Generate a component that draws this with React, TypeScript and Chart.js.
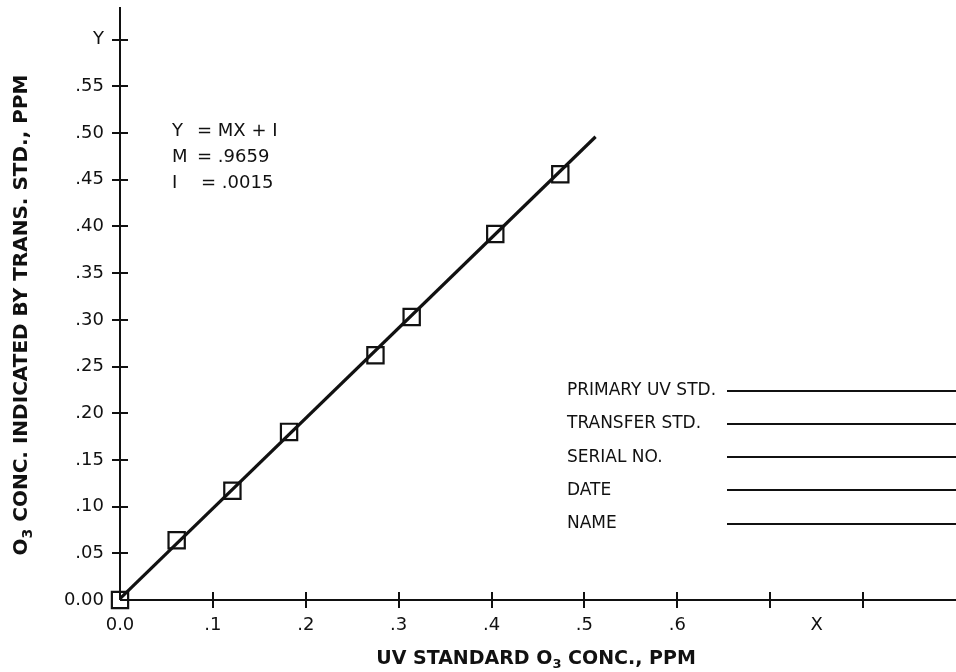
import { useEffect, useRef } from "react";
import { Chart, registerables } from "chart.js";

Chart.register(...registerables);

// Calibration readings: UV standard (x) vs transfer standard (y), ppm
const UV_STD_PPM = [0, 0.061, 0.121, 0.182, 0.275, 0.314, 0.404, 0.474];
const TRANSFER_PPM = [0, 0.064, 0.117, 0.18, 0.262, 0.303, 0.392, 0.456];

// Least-squares fit Y = MX + I
const SLOPE = 0.9659;
const INTERCEPT = 0.0015;
const FIT_X_RANGE = [0, 0.512];

// Axis ticks and their labels
const X_TICKS = [0, 0.1, 0.2, 0.3, 0.4, 0.5, 0.6, 0.7, 0.75, 0.8];
const X_TICK_LABELS = ["0.0", ".1", ".2", ".3", ".4", ".5", ".6", "", "X", ""];
const X_TICK_MARKS = [0.1, 0.2, 0.3, 0.4, 0.5, 0.6, 0.7, 0.8];
const Y_TICKS = [0, 0.05, 0.1, 0.15, 0.2, 0.25, 0.3, 0.35, 0.4, 0.45, 0.5, 0.55, 0.6];
const Y_TICK_LABELS = ["0.00", ".05", ".10", ".15", ".20", ".25", ".30", ".35", ".40", ".45", ".50", ".55", "Y"];
const Y_TICK_MARKS = [0.05, 0.1, 0.15, 0.2, 0.25, 0.3, 0.35, 0.4, 0.45, 0.5, 0.55, 0.6];

// Equation block: left symbol and right-hand side
const EQUATION_LHS = ["Y", "M", "I"];
const EQUATION_RHS = ["= MX + I", "= .9659", "= .0015"];

// Sign-off fields
const FORM_FIELDS = ["PRIMARY UV STD.", "TRANSFER STD.", "SERIAL NO.", "DATE", "NAME"];

const FONT = "'DejaVu Sans', Verdana, sans-serif";
const INK = "#111";

type Seg = { text: string; sub?: boolean };

function drawRich(ctx: CanvasRenderingContext2D, segs: Seg[], cx: number, cy: number, angle: number, size: number) {
  const main = `bold ${size}px ${FONT}`;
  const small = `bold ${Math.round(size * 0.7)}px ${FONT}`;
  let total = 0;
  const widths = segs.map((s) => {
    ctx.font = s.sub ? small : main;
    const w = ctx.measureText(s.text).width;
    total += w;
    return w;
  });
  ctx.save();
  ctx.translate(cx, cy);
  ctx.rotate(angle);
  ctx.fillStyle = INK;
  ctx.textBaseline = "middle";
  ctx.textAlign = "left";
  let x = -total / 2;
  segs.forEach((s, i) => {
    ctx.font = s.sub ? small : main;
    ctx.fillText(s.text, x, s.sub ? 6 : 0);
    x += widths[i];
  });
  ctx.restore();
}

const decorations = {
  id: "calibrationSheet",
  beforeDatasetsDraw(chart: any) {
    const ctx: CanvasRenderingContext2D = chart.ctx;
    const { left, right, top, bottom } = chart.chartArea;
    const xs = chart.scales.x;
    const ys = chart.scales.y;
    ctx.save();
    ctx.strokeStyle = INK;
    ctx.lineWidth = 2;
    ctx.beginPath();
    ctx.moveTo(left, top);
    ctx.lineTo(left, bottom);
    ctx.moveTo(left, bottom);
    ctx.lineTo(right, bottom);
    Y_TICK_MARKS.forEach((v) => {
      const py = Math.round(ys.getPixelForValue(v));
      ctx.moveTo(left - 8, py);
      ctx.lineTo(left + 8, py);
    });
    X_TICK_MARKS.forEach((v) => {
      const px = Math.round(xs.getPixelForValue(v));
      ctx.moveTo(px, bottom - 8);
      ctx.lineTo(px, bottom + 8);
    });
    ctx.stroke();
    ctx.restore();
  },
  afterDraw(chart: any) {
    const ctx: CanvasRenderingContext2D = chart.ctx;
    const { left, bottom } = chart.chartArea;
    ctx.save();
    ctx.fillStyle = INK;
    ctx.textBaseline = "middle";
    ctx.textAlign = "left";

    // equation
    ctx.font = `18px ${FONT}`;
    EQUATION_LHS.forEach((t, i) => {
      const y = 131 + i * 26;
      ctx.fillText(t, left + 52, y);
      ctx.fillText(EQUATION_RHS[i], left + (i === 2 ? 81 : 77), y);
    });

    // sign-off fields
    ctx.font = `17px ${FONT}`;
    ctx.strokeStyle = INK;
    ctx.lineWidth = 2;
    FORM_FIELDS.forEach((t, i) => {
      const y = 390.5 + i * 33.3;
      ctx.fillText(t, left + 447, y);
      ctx.beginPath();
      ctx.moveTo(left + 607, Math.round(y));
      ctx.lineTo(chart.width, Math.round(y));
      ctx.stroke();
    });
    ctx.restore();

    // axis titles
    drawRich(
      ctx,
      [{ text: "UV STANDARD O" }, { text: "3", sub: true }, { text: " CONC., PPM" }],
      left + 416,
      bottom + 59,
      0,
      19
    );
    drawRich(
      ctx,
      [{ text: "O" }, { text: "3", sub: true }, { text: " CONC. INDICATED BY TRANS. STD., PPM" }],
      22,
      315,
      -Math.PI / 2,
      20
    );
  },
};

export default function App() {
  const ref = useRef<HTMLCanvasElement>(null);

  useEffect(() => {
    if (!ref.current) return;
    const points = UV_STD_PPM.map((x, i) => ({ x, y: TRANSFER_PPM[i] }));
    const fit = FIT_X_RANGE.map((x) => ({ x, y: SLOPE * x + INTERCEPT }));
    const chart = new Chart(ref.current, {
      type: "scatter",
      data: {
        datasets: [
          {
            type: "line",
            data: fit,
            borderColor: INK,
            borderWidth: 3.2,
            pointRadius: 0,
            fill: false,
            clip: false,
          } as any,
          {
            data: points,
            pointStyle: "rect",
            pointRadius: 11.5,
            pointBorderWidth: 2.2,
            borderColor: INK,
            backgroundColor: "rgba(0,0,0,0)",
            pointBackgroundColor: "rgba(0,0,0,0)",
            clip: false,
          } as any,
        ],
      },
      plugins: [decorations],
      options: {
        animation: false,
        responsive: false,
        devicePixelRatio: 1,
        layout: { autoPadding: false, padding: { left: 0, top: 7, right: 0, bottom: 0 } },
        plugins: { legend: { display: false }, tooltip: { enabled: false }, title: { display: false } },
        scales: {
          x: {
            type: "linear",
            min: 0,
            max: 0.9,
            border: { display: false },
            grid: { display: false, drawTicks: false },
            afterBuildTicks: (s: any) => {
              s.ticks = X_TICKS.map((value) => ({ value }));
            },
            afterFit: (s: any) => {
              s.height = 72;
              s.paddingLeft = 0;
              s.paddingRight = 0;
            },
            ticks: {
              autoSkip: false,
              maxRotation: 0,
              minRotation: 0,
              padding: 15,
              color: INK,
              font: { family: FONT, size: 18 },
              callback: (_v: any, i: number) => X_TICK_LABELS[i],
            },
          },
          y: {
            type: "linear",
            min: 0,
            max: 0.635,
            border: { display: false },
            grid: { display: false, drawTicks: false },
            afterBuildTicks: (s: any) => {
              s.ticks = Y_TICKS.map((value) => ({ value }));
            },
            afterFit: (s: any) => {
              s.width = 120;
              s.paddingTop = 0;
              s.paddingBottom = 0;
            },
            ticks: {
              autoSkip: false,
              padding: 16,
              color: INK,
              font: { family: FONT, size: 18 },
              callback: (_v: any, i: number) => Y_TICK_LABELS[i],
            },
          },
        },
      },
    });
    return () => chart.destroy();
  }, []);

  return (
    <div style={{ position: "absolute", left: 0, top: 0, width: 956, height: 672, background: "#fff" }}>
      <canvas ref={ref} width={956} height={672} />
    </div>
  );
}
